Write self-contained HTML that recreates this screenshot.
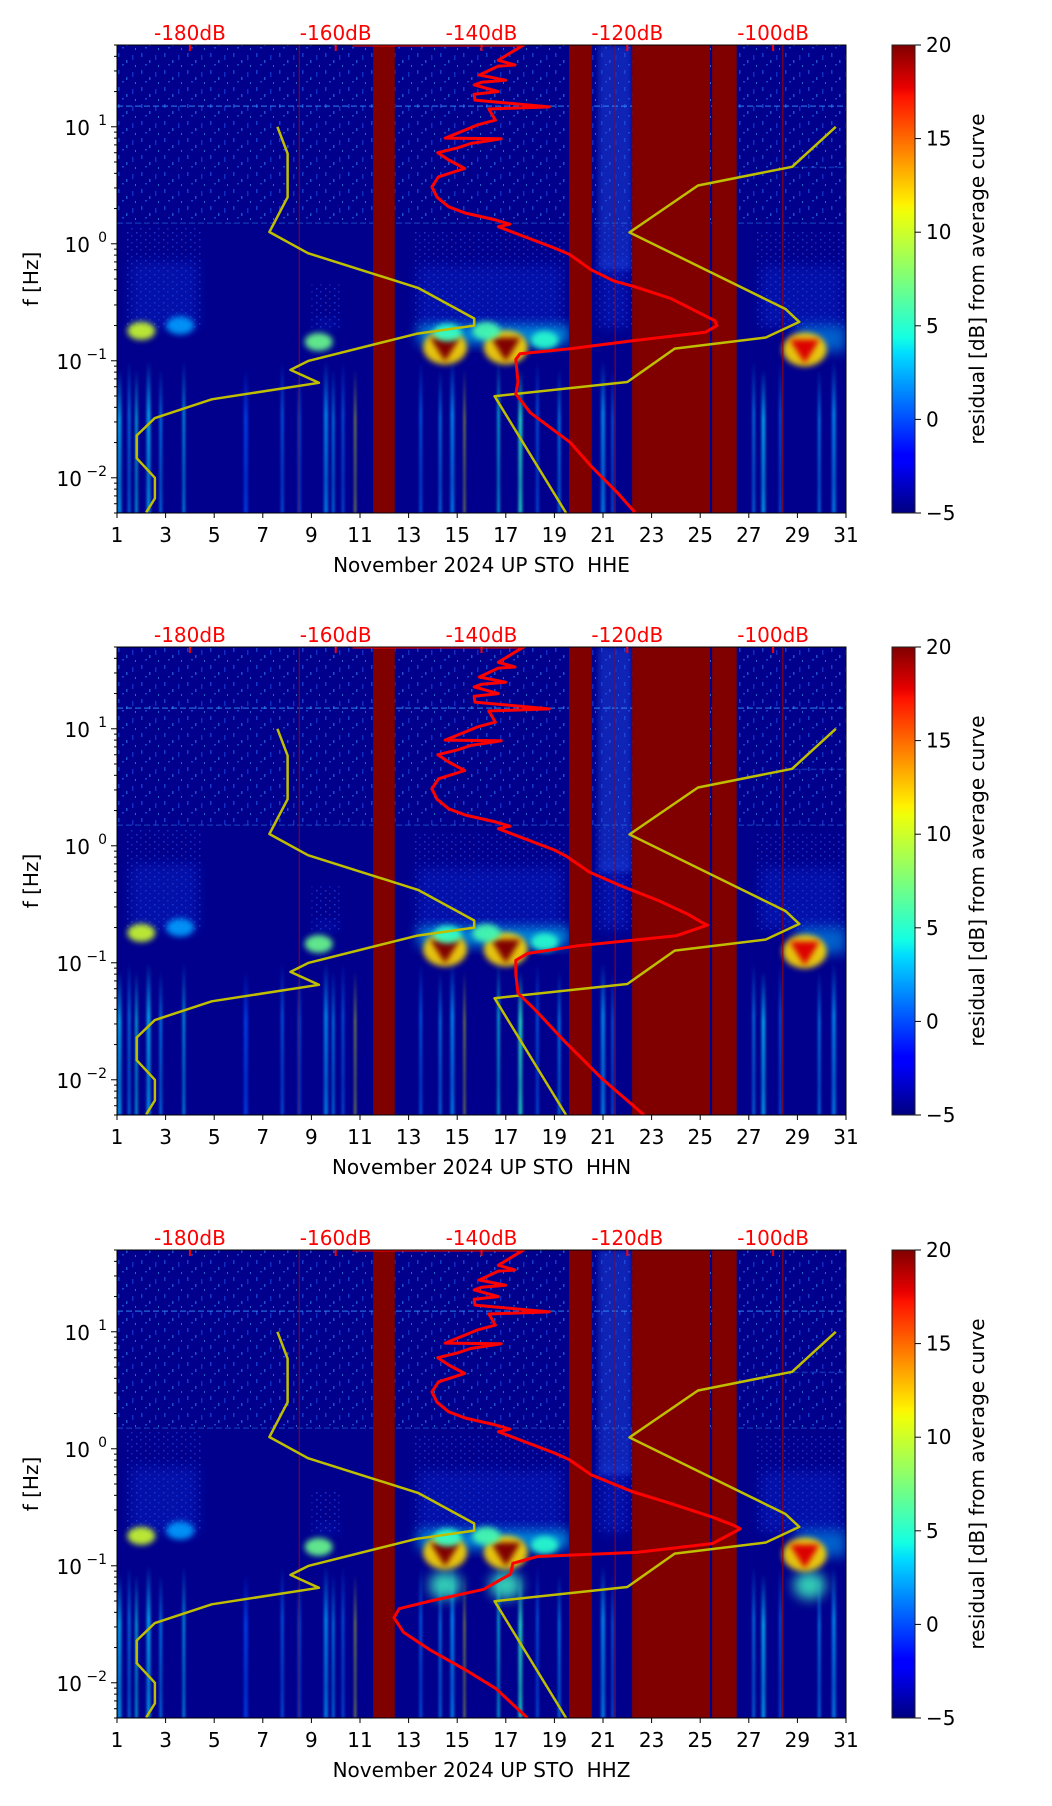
<!DOCTYPE html>
<html><head><meta charset="utf-8">
<style>
html,body{margin:0;padding:0;background:#fff;}
svg{display:block;font-family:"DejaVu Sans","Liberation Sans",sans-serif;}
</style></head>
<body>
<svg id="fig" width="1052" height="1806" viewBox="0 0 1052 1806" xmlns="http://www.w3.org/2000/svg">
<defs>
<linearGradient id="jet" x1="0" y1="1" x2="0" y2="0">
<stop offset="0" stop-color="#000080"/><stop offset="0.11" stop-color="#0000ff"/>
<stop offset="0.125" stop-color="#0000ff"/><stop offset="0.34" stop-color="#00dbff"/>
<stop offset="0.375" stop-color="#14ffe3"/><stop offset="0.5" stop-color="#7dff7a"/>
<stop offset="0.64" stop-color="#eeff0a"/><stop offset="0.66" stop-color="#fff200"/>
<stop offset="0.89" stop-color="#ff1200"/><stop offset="0.91" stop-color="#e80000"/>
<stop offset="1" stop-color="#800000"/>
</linearGradient>
<linearGradient id="streakFade" x1="0" y1="0" x2="0" y2="1">
<stop offset="0" stop-color="#fff" stop-opacity="0"/><stop offset="0.35" stop-color="#fff" stop-opacity="0.8"/><stop offset="0.8" stop-color="#fff" stop-opacity="0.6"/><stop offset="1" stop-color="#fff" stop-opacity="0.75"/>
</linearGradient>
<mask id="fadeMask" maskContentUnits="objectBoundingBox"><rect x="0" y="0" width="1" height="1" fill="url(#streakFade)"/></mask>
<pattern id="speckle" width="23" height="17" patternUnits="userSpaceOnUse">
<rect x="3" y="2" width="1.5" height="4" fill="#2a6cff"/>
<rect x="11" y="9" width="1.5" height="3" fill="#3a90ff"/>
<rect x="17" y="4" width="1.5" height="5" fill="#1f50f0"/>
<rect x="7" y="13" width="2" height="1.5" fill="#2f7aff"/>
<rect x="20" y="14" width="1" height="2" fill="#40c0ff"/>
</pattern>
<pattern id="speckle2" width="9" height="7" patternUnits="userSpaceOnUse">
<rect x="1" y="1" width="1.5" height="1.5" fill="#2d5cff"/>
<rect x="5" y="4" width="1.5" height="1.5" fill="#2448f0"/>
</pattern>
<filter id="blur6" x="-50%" y="-50%" width="200%" height="200%"><feGaussianBlur stdDeviation="6"/></filter>
<filter id="blur3" x="-50%" y="-50%" width="200%" height="200%"><feGaussianBlur stdDeviation="3"/></filter>
<filter id="blur1" x="-200%" y="-10%" width="500%" height="120%"><feGaussianBlur stdDeviation="1.2"/></filter>
</defs>
</svg>
<script>
// ---- data ----
const dayTicks = [1,3,5,7,9,11,13,15,17,19,21,23,25,27,29,31];
const dbTicks = [-180,-160,-140,-120,-100];
const dbTickLabels = ["-180dB","-160dB","-140dB","-120dB","-100dB"];
const decadeTicks = [-2,-1,0,1];
const cbarTicks = [-5,0,5,10,15,20];
const channels = ["HHE","HHN","HHZ"];
const gapStart = [11.54, 19.6, 22.2, 25.49];
const gapEnd   = [12.43, 20.54, 25.4, 26.5];
// low reference curve (dB, Hz)
const lowDb = [-168.0,-166.6,-166.6,-169.1,-163.8,-148.7,-141.0,-141.0,-148.9,-163.7,-166.2,-162.3,-177.0,-184.8,-187.3,-187.3,-184.8,-184.8,-186.0];
const lowF  = [10,5.9,2.5,1.26,0.83,0.42,0.23,0.2,0.17,0.1,0.0835,0.0648,0.0469,0.0324,0.023,0.0147,0.01,0.00667,0.00506];
// high reference curve
const highDb = [-128.4,-138.2,-120.0,-113.5,-101.0,-96.4,-98.3,-119.7,-110.3,-97.4,-91.4];
const highF  = [0.005,0.0498,0.0658,0.127,0.158,0.215,0.277,1.25,3.15,4.55,10];
// median PSD upper part (dB, Hz)
const topDb = [-157.7,-134.2,-135,-137.7,-135.4,-137.7,-140.3,-136.7,-140.0,-141,-137.7,-141,-140.9,-130.7,-139,-138.1,-140.5,-142.2,-145,-137.3,-141.5,-143.3,-146,-144.5,-142.3,-145.9,-146.8,-146.1,-144.5,-142.2,-138.1,-136.1,-137.7];
const topF  = [50,50,46.9,37,33.7,33,27.7,25,24,22.8,20,19,16.9,14.8,14.2,11.4,10.4,9.4,8.0,7.9,7.2,6.6,6.0,5.2,4.4,3.74,3.07,2.5,2.07,1.83,1.6,1.47,1.4];
// lower parts per channel
const lowerDbE = [-130,-127.9,-125,-121.8,-119,-114,-110.3,-108,-107.7,-109.3,-118.7,-127.7,-134.7,-135.3,-135,-135.3,-133.3,-127.8,-125,-121.3,-119];
const lowerFE  = [0.92,0.81,0.6,0.48,0.43,0.34,0.26,0.22,0.2,0.175,0.15,0.127,0.115,0.103,0.066,0.052,0.036,0.02,0.0126,0.0074,0.0051];
const lowerDbN = [-130,-128.3,-125.3,-120.7,-115.7,-111.7,-109.7,-109,-113.3,-126.7,-133.7,-135.3,-135.3,-135,-132.7,-128.5,-123.3,-117.7];
const lowerFN  = [0.92,0.81,0.6,0.45,0.34,0.26,0.22,0.21,0.17,0.14,0.12,0.105,0.08,0.055,0.04,0.021,0.01,0.005];
const lowerDbZ = [-130,-128,-125,-119.3,-114,-108.3,-105.3,-104.5,-108.3,-118.7,-132.3,-135.7,-136,-139.7,-147,-151.3,-152,-150.7,-147,-142.3,-138,-133.7];
const lowerFZ  = [0.92,0.81,0.6,0.43,0.34,0.26,0.22,0.207,0.155,0.13,0.12,0.105,0.085,0.063,0.05,0.043,0.036,0.027,0.019,0.013,0.0089,0.005];
// spectrogram features
const hazeDay0 = [1.4, 9.0, 13.2, 20.7, 27.3];
const hazeDay1 = [4.5, 10.2, 19.5, 22.2, 31];
const hazeFTop = [1.4, 0.45, 1.3, 1.5, 1.3];
const blobDay = [2.0, 3.6, 9.3, 14.5, 17.0, 18.6, 29.3, 14.6, 16.2];
const blobF   = [0.18, 0.2, 0.145, 0.13, 0.13, 0.15, 0.125, 0.175, 0.18];
const blobLevel=[10, 2, 7, 20, 20, 5, 18, 5, 6];
const streakDays = [1.1,1.5,1.8,2.3,2.8,3.75,6.3,7.8,8.5,9.6,9.9,10.3,10.8,13.5,14.3,14.8,15.3,16.7,17.6,18.3,19.2,21.0,21.4,27.2,27.6,28.3,29.9,30.5];
const streakLevel= [4,3,5,4,3,4,1,2,2,3,3,2,12,2,3,3,12,5,6,2,3,3,2,3,4,2,3,3];
const redLineDays = [8.5, 21.5, 28.4];

// ---- layout ----
const L=117, R=846, H=468, tops=[45,647,1250];
const svg=document.getElementById('fig');
const NS='http://www.w3.org/2000/svg';
function el(tag, attrs, parent){const e=document.createElementNS(NS,tag);for(const k in attrs)e.setAttribute(k,attrs[k]);(parent||svg).appendChild(e);return e;}
function jet(v){
  const t=Math.max(0,Math.min(1,(v+5)/25));
  const r=t<0.35?0:t<0.66?(t-0.35)/0.31:t<0.89?1:1-(t-0.89)/0.11*0.5;
  const g=t<0.125?0:t<0.375?(t-0.125)/0.25:t<0.64?1:t<0.91?1-(t-0.64)/0.27:0;
  const b=t<0.11?0.5+t/0.11*0.5:t<0.34?1:t<0.65?1-(t-0.34)/0.31:0;
  return `rgb(${Math.round(r*255)},${Math.round(g*255)},${Math.round(b*255)})`;
}

tops.forEach((T,pi)=>{
  const xDay=d=>L+(d-1)/30*(R-L);
  const xDb=db=>xDay(4+(db+180)*0.3);
  const yF=f=>T+(Math.log10(50)-Math.log10(f))/4*H;
  const g=el('g',{});
  
  
  const cp=el('clipPath',{id:'clip'+pi},g);
  el('rect',{x:L,y:T,width:R-L,height:H},cp);
  const plot=el('g',{'clip-path':`url(#clip${pi})`},g);
  const bg=el('rect',{x:L,y:T,width:R-L,height:H,fill:'#00008c'},plot);
  
  
  const sk=el('rect',{x:L,y:T,width:R-L,height:yF(1.5)-T,fill:'url(#speckle)',opacity:0.55},plot);
  
  
  hazeDay0.forEach((d0,i)=>{
    const r=el('rect',{x:xDay(hazeDay0[i]),y:yF(hazeFTop[i]),width:xDay(hazeDay1[i])-xDay(hazeDay0[i]),height:yF(0.19)-yF(hazeFTop[i]),fill:'url(#speckle2)',opacity:0.6},plot);
    
    
    const r2=el('rect',{x:xDay(hazeDay0[i])+4,y:yF(hazeFTop[i]*0.5),width:xDay(hazeDay1[i])-xDay(hazeDay0[i])-8,height:yF(0.19)-yF(hazeFTop[i]*0.5),fill:'#0f30e0',opacity:0.35,filter:'url(#blur6)'},plot);
    
    
  });
  const sp=el('rect',{x:xDay(20.8),y:T,width:xDay(22.2)-xDay(20.8),height:yF(0.6)-T,fill:'#2050e8',opacity:0.45,filter:'url(#blur3)'},plot);
  
  
  const band=el('rect',{x:xDay(13.4),y:yF(0.2),width:xDay(19.6)-xDay(13.4),height:yF(0.14)-yF(0.2),fill:'#00c8ff',opacity:0.7,filter:'url(#blur6)'},plot);
  
  
  const band2=el('rect',{x:xDay(29),y:yF(0.2),width:xDay(31)-xDay(29),height:yF(0.12)-yF(0.2),fill:'#00b0ff',opacity:0.55,filter:'url(#blur6)'},plot);
  
  
  [15,1.5,4.5].forEach((f,i)=>{
    const hl=el('line',{x1:i==2?xDay(28.8):L,x2:R,y1:yF(f),y2:yF(f),stroke:'#3aa0ff',opacity:i==0?0.55:0.3,'stroke-width':1.5,'stroke-dasharray':'6 3'},plot);
    
    
  });
  // streaks with faded tops
  const sg=el('g',{filter:'url(#blur1)'},plot);
  streakDays.forEach((d,i)=>{
    const bright=streakLevel[i]>8;
    const w=bright?1.6:(i%3==0?4:2.5);
    const y0=yF(i%2?0.1:0.085);
    const s=el('rect',{x:xDay(d)-w/2,y:y0,width:w,height:T+H-y0,fill:jet(streakLevel[i]-1),mask:'url(#fadeMask)'},sg);
    
    
  });
  if(pi==2){[14.5,17.0,29.5].forEach(d=>{
    const b=el('ellipse',{cx:xDay(d),cy:yF(0.068),rx:16,ry:14,fill:'#40ffc0',opacity:0.8,filter:'url(#blur6)'},plot);
    
    
  });}
  blobDay.forEach((d,i)=>{
    const lv=blobLevel[i];
    const b=el('ellipse',{cx:xDay(d),cy:yF(blobF[i]),rx:lv>15?22:14,ry:lv>15?17:9,fill:jet(Math.min(lv,12)),opacity:0.9,filter:'url(#blur3)'},plot);
    
    
    if(lv>15){
      const c=el('path',{d:`M${xDay(d)-15},${yF(blobF[i])-10} L${xDay(d)+15},${yF(blobF[i])-10} L${xDay(d)},${yF(blobF[i])+14} Z`,fill:jet(lv),filter:'url(#blur3)'},plot);
      
      
    }
  });
  redLineDays.forEach(d=>{
    const l=el('line',{x1:xDay(d),x2:xDay(d),y1:T,y2:T+H,stroke:'#a00000','stroke-width':1},plot);
    
    
  });
  gapStart.forEach((s,i)=>{
    const r=el('rect',{x:xDay(s),y:T,width:xDay(gapEnd[i])-xDay(s),height:H,fill:'#800000'},plot);
    
    
  });
  const pts=(xs,fs)=>xs.map((v,i)=>xDb(v).toFixed(1)+','+yF(fs[i]).toFixed(1)).join(' ');
  const lo=el('polyline',{points:pts(lowDb,lowF),fill:'none',stroke:'#bfbf00','stroke-width':2.5,'stroke-linejoin':'round'},plot);
  
  
  const hi=el('polyline',{points:pts(highDb,highF),fill:'none',stroke:'#bfbf00','stroke-width':2.5,'stroke-linejoin':'round'},plot);
  
  
  const ldb=[lowerDbE,lowerDbN,lowerDbZ][pi], lf=[lowerFE,lowerFN,lowerFZ][pi];
  const md=el('polyline',{points:pts(topDb.concat(ldb),topF.concat(lf)),fill:'none',stroke:'#ff0000','stroke-width':3,'stroke-linejoin':'round'},plot);
  
  
  el('rect',{x:L,y:T,width:R-L,height:H,fill:'none',stroke:'#000','stroke-width':1},g);
  dbTicks.forEach((db,i)=>{
    const x=xDb(db);
    el('line',{x1:x,x2:x,y1:T,y2:T+6,stroke:'#ff0000','stroke-width':2},g);
    const t=el('text',{x:x,y:T-5,'text-anchor':'middle','font-size':20,fill:'#ff0000'},g);
    t.textContent=dbTickLabels[i];
    
    
  });
  dayTicks.forEach(d=>{
    const x=xDay(d);
    el('line',{x1:x,x2:x,y1:T+H,y2:T+H+5,stroke:'#000'},g);
    const t=el('text',{x:x,y:T+H+29,'text-anchor':'middle','font-size':20},g);
    t.textContent=d;
    
    
  });
  const xl=el('text',{x:(L+R)/2,y:T+H+59,'text-anchor':'middle','font-size':20},g);
  xl.textContent='November 2024 UP STO  HH'+channels[pi].slice(2);
  xl.style.whiteSpace='pre';
  
  
  for(let e=-3;e<=1;e++){for(let m=1;m<10;m++){
    const f=m*Math.pow(10,e); if(f<0.005||f>50)continue;
    const y=yF(f);
    el('line',{x1:L-(m==1?6:3),x2:L,y1:y,y2:y,stroke:'#000'},g);
  }}
  decadeTicks.forEach(e=>{
    const y=yF(Math.pow(10,e));
    const t=el('text',{x:e<0?L-35:L-27,y:y+8,'text-anchor':'end','font-size':20},g);
    t.textContent='10';
    
    
    const s=el('text',{x:L-10,y:y-2,'text-anchor':'end','font-size':14},g);
    s.textContent=e<0?'\u2212'+(-e):String(e);
  });
  const yl=el('text',{x:0,y:0,transform:`translate(38,${T+H/2}) rotate(-90)`,'text-anchor':'middle','font-size':20},g);
  yl.textContent='f [Hz]';
  
  
  const cb=el('rect',{x:892,y:T,width:23,height:H,fill:'url(#jet)',stroke:'#222','stroke-width':1},g);
  
  
  cbarTicks.forEach(v=>{
    const y=T+H-(v+5)/25*H;
    el('line',{x1:915,x2:921,y1:y,y2:y,stroke:'#000'},g);
    const t=el('text',{x:926,y:y+7,'font-size':20},g);
    t.textContent=v<0?'\u2212'+(-v):v;
    
    
  });
  const cl=el('text',{x:0,y:0,transform:`translate(984,${T+H/2}) rotate(-90)`,'text-anchor':'middle','font-size':20},g);
  cl.textContent='residual [dB] from average curve';
  
  
});
</script>
</body></html>
